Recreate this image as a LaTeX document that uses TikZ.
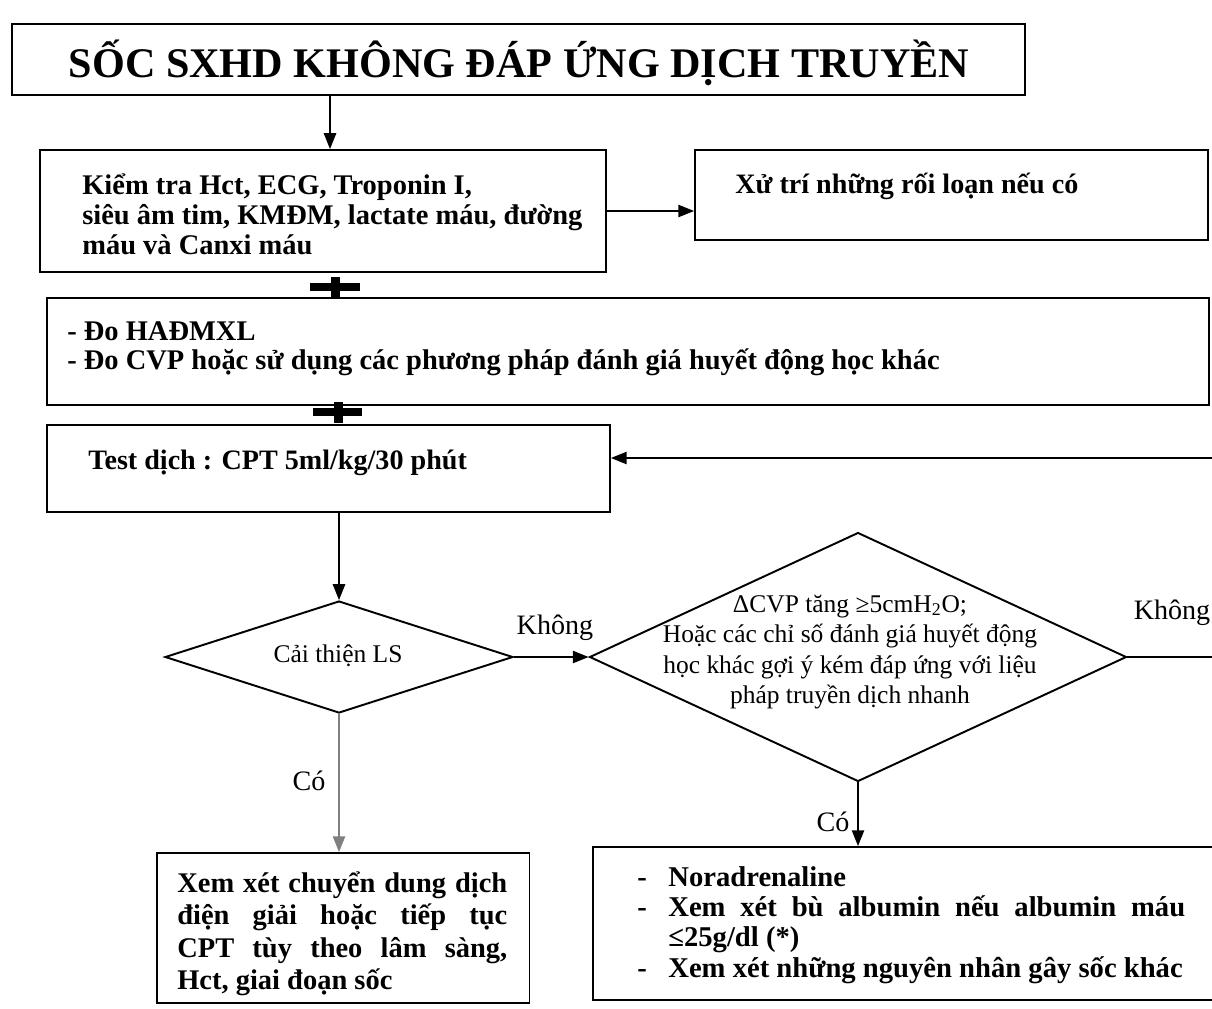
\documentclass[tikz,border=0pt]{standalone}
\usepackage{fontspec}
\usepackage{graphicx}
\setmainfont{Liberation Serif}
\usetikzlibrary{shapes.geometric,arrows.meta}
\begin{document}
\begin{tikzpicture}[x=0.02cm,y=-0.02cm,
  boxs/.style={draw, line width=1.1pt, rectangle, inner sep=0pt},
  btxt/.style={inner sep=0pt, anchor=west, align=left, font=\bfseries\fontsize{16}{17}\selectfont},
  rtxt/.style={inner sep=0pt, align=center, font=\fontsize{14.5}{17.4}\selectfont},
  lbl/.style={inner sep=0pt, font=\fontsize{16}{19}\selectfont},
  dia/.style={draw, diamond, line width=1.1pt, inner sep=0pt},
  arr/.style={-{Triangle[length=9pt,width=7pt]}, line width=0.9pt},
  plain/.style={line width=0.9pt}
]
\useasboundingbox (0,0) rectangle (1212,1008);
\clip (0,0) rectangle (1212,1008);

% boxes
\node[boxs, minimum width=20.26cm, minimum height=1.42cm] (t) at (518.5,59.5) {};
\node[inner sep=0pt, font=\bfseries\fontsize{24}{26}\selectfont] (tt) at (519,63) {SỐC SXHD KHÔNG ĐÁP ỨNG DỊCH TRUYỀN};

\node[boxs, minimum width=11.32cm, minimum height=2.44cm] (b2) at (323,211) {};
\node[btxt, font=\bfseries\fontsize{16.2}{17}\selectfont] (t2) at (82,214) {Kiểm tra Hct, ECG, Troponin I,\\siêu âm tim, KMĐM, lactate máu, đường\\máu và Canxi máu};

\node[boxs, minimum width=10.26cm, minimum height=1.8cm] (b3) at (951.5,195) {};
\node[btxt] (t3) at (735,186) {Xử trí những rối loạn nếu có};

\node[boxs, minimum width=23.24cm, minimum height=2.14cm] (b4) at (628,351.5) {};
\node[btxt, font=\bfseries\fontsize{16.2}{16.5}\selectfont] (t4) at (67,349) {- Đo HAĐMXL\\- Đo CVP hoặc sử dụng các phương pháp đánh giá huyết động học khác};

\node[boxs, minimum width=11.26cm, minimum height=1.74cm] (b5) at (328.5,468.5) {};
\node[btxt] (t5) at (88,463) {Test dịch : CPT 5ml/kg/30 phút};

\node[dia, minimum width=6.96cm, minimum height=2.24cm] (d1) at (339,657) {};
\node[rtxt] (d1t) at (338,656) {Cải thiện LS};

\node[dia, minimum width=10.74cm, minimum height=4.98cm] (d2) at (858,657) {};
\node[rtxt] (d2t) at (850,652) {ΔCVP tăng ≥5cmH\textsubscript{2}O;\\Hoặc các chỉ số đánh giá huyết động\\học khác gợi ý kém đáp ứng với liệu\\pháp truyền dịch nhanh};

\node[boxs, minimum width=7.46cm, minimum height=3.0cm] (b6) at (343,928) {};
\node[btxt, font=\bfseries\fontsize{16.2}{18.5}\selectfont] (t6) at (177,934) {\makebox[6.6cm][s]{Xem xét chuyển dung dịch}\\\makebox[6.6cm][s]{điện giải hoặc tiếp tục}\\\makebox[6.6cm][s]{CPT tùy theo lâm sàng,}\\Hct, giai đoạn sốc};

\node[boxs, minimum width=12.94cm, minimum height=3.06cm] (b7) at (916.5,923.5) {};
\node[btxt, font=\bfseries\fontsize{16.3}{17.2}\selectfont] (t7) at (637,925) {\makebox[0.62cm][l]{-}Noradrenaline\\\makebox[0.62cm][l]{-}\makebox[10.34cm][s]{Xem xét bù albumin nếu albumin máu}\\\makebox[0.62cm][l]{}≤25g/dl (*)\\\makebox[0.62cm][l]{-}Xem xét những nguyên nhân gây sốc khác};

% plus signs
\fill (310,283) rectangle (360,291);
\fill (331,277) rectangle (340,299);
\fill (313,408) rectangle (362,416);
\fill (334,402) rectangle (343,423);

% labels
\node[lbl] (lk1) at (555,628) {Không};
\node[lbl] (lk2) at (1172,613) {Không};
\node[lbl] (lc1) at (309,781) {Có};
\node[lbl] (lc2) at (833,822) {Có};

% connectors
\coordinate (c330) at (330,0);
\coordinate (eR) at (1230,0);
\coordinate (eB) at (1230,458);
\draw[arr] (t.south -| c330) -- (b2.north -| c330);
\draw[arr] (b2.east) -- (b2.east -| b3.west);
\draw[arr] (b5.south -| d1.north) -- (d1.north);
\draw[arr] (d1.east) -- (d2.west);
\draw[arr, draw=gray, fill=gray] (d1.south) -- (d1.south |- b6.north);
\draw[arr] (d2.south) -- (d2.south |- b7.north);
\draw[plain] (d2.east) -- (d2.east -| eR);
\draw[arr] (eB) -- (eB -| b5.east);
\end{tikzpicture}
\end{document}
